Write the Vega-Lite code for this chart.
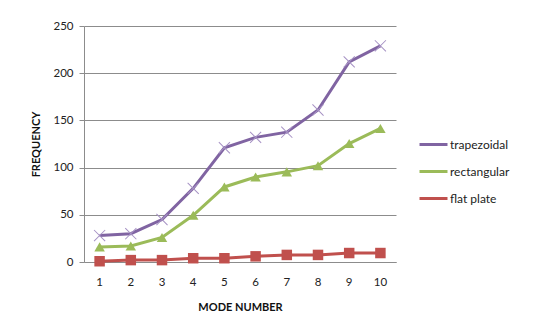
{
  "$schema": "https://vega.github.io/schema/vega-lite/v6.json",
  "autosize": "none",
  "width": 312,
  "height": 236,
  "padding": {"left": 84, "top": 26, "right": 137, "bottom": 68},
  "background": "white",
  "config": {
    "view": {"stroke": null},
    "font": "Lato",
    "axis": {"labelFont": "Lato", "titleFont": "Lato", "labelColor": "#222", "titleColor": "#111"}
  },
  "data": {
    "values": [
      {"mode": "1", "series": "trapezoidal", "freq": 28},
      {"mode": "2", "series": "trapezoidal", "freq": 30},
      {"mode": "3", "series": "trapezoidal", "freq": 45},
      {"mode": "4", "series": "trapezoidal", "freq": 78},
      {"mode": "5", "series": "trapezoidal", "freq": 121},
      {"mode": "6", "series": "trapezoidal", "freq": 132},
      {"mode": "7", "series": "trapezoidal", "freq": 137.5},
      {"mode": "8", "series": "trapezoidal", "freq": 161},
      {"mode": "9", "series": "trapezoidal", "freq": 212},
      {"mode": "10", "series": "trapezoidal", "freq": 229},
      {"mode": "1", "series": "rectangular", "freq": 16},
      {"mode": "2", "series": "rectangular", "freq": 17},
      {"mode": "3", "series": "rectangular", "freq": 26},
      {"mode": "4", "series": "rectangular", "freq": 49.5},
      {"mode": "5", "series": "rectangular", "freq": 79.5},
      {"mode": "6", "series": "rectangular", "freq": 90},
      {"mode": "7", "series": "rectangular", "freq": 95.5},
      {"mode": "8", "series": "rectangular", "freq": 102},
      {"mode": "9", "series": "rectangular", "freq": 125.5},
      {"mode": "10", "series": "rectangular", "freq": 141.5},
      {"mode": "1", "series": "flat plate", "freq": 0.8},
      {"mode": "2", "series": "flat plate", "freq": 2},
      {"mode": "3", "series": "flat plate", "freq": 2},
      {"mode": "4", "series": "flat plate", "freq": 4},
      {"mode": "5", "series": "flat plate", "freq": 4},
      {"mode": "6", "series": "flat plate", "freq": 6},
      {"mode": "7", "series": "flat plate", "freq": 7.5},
      {"mode": "8", "series": "flat plate", "freq": 7.5},
      {"mode": "9", "series": "flat plate", "freq": 9.5},
      {"mode": "10", "series": "flat plate", "freq": 9.5}
    ]
  },
  "encoding": {
    "x": {
      "field": "mode", "type": "ordinal", "sort": null,
      "scale": {"type": "band", "paddingInner": 0, "paddingOuter": 0},
      "axis": {
        "title": "MODE NUMBER", "titleFontSize": 11, "titleFontWeight": "bold", "titlePadding": 14,
        "labelAngle": 0, "labelFontSize": 11.5, "labelPadding": 14, "ticks": false,
        "domainColor": "#8c8c8c", "grid": false
      }
    },
    "y": {
      "field": "freq", "type": "quantitative",
      "scale": {"domain": [0, 250], "nice": false},
      "axis": {
        "title": "FREQUENCY", "titleFontSize": 11, "titleFontWeight": "bold", "titlePadding": 11,
        "values": [0, 50, 100, 150, 200, 250], "labelFontSize": 11.5, "labelPadding": 6,
        "tickSize": 5, "tickColor": "#8c8c8c", "domainColor": "#8c8c8c",
        "grid": true, "gridColor": "#8c8c8c", "gridWidth": 1
      }
    }
  },
  "layer": [
    {
      "mark": {"type": "line", "strokeWidth": 3},
      "encoding": {
        "color": {
          "field": "series", "type": "nominal",
          "scale": {"domain": ["trapezoidal", "rectangular", "flat plate"], "range": ["#8064A2", "#9BBB59", "#C0504D"]},
          "legend": {
            "title": null, "orient": "none", "legendX": 334, "legendY": 103,
            "symbolType": "stroke", "symbolSize": 784, "symbolStrokeWidth": 3,
            "labelFontSize": 12, "labelFont": "Lato", "labelColor": "#222", "labelOffset": 1, "rowPadding": 5
          }
        }
      }
    },
    {
      "transform": [{"filter": "datum.series === 'trapezoidal'"}],
      "mark": {"type": "point", "filled": true, "opacity": 1, "strokeWidth": 0, "fill": "#a692c4", "size": 140,
        "shape": "M-1,-0.88L-0.88,-1L1,0.88L0.88,1Z M1,-0.88L-0.88,1L-1,0.88L0.88,-1Z"}
    },
    {
      "transform": [{"filter": "datum.series === 'rectangular'"}],
      "mark": {"type": "point", "filled": true, "opacity": 1, "strokeWidth": 0, "fill": "#9BBB59", "size": 110, "shape": "triangle-up"}
    },
    {
      "transform": [{"filter": "datum.series === 'flat plate'"}],
      "mark": {"type": "point", "filled": true, "opacity": 1, "strokeWidth": 0, "fill": "#C0504D", "size": 110, "shape": "square"}
    }
  ]
}
